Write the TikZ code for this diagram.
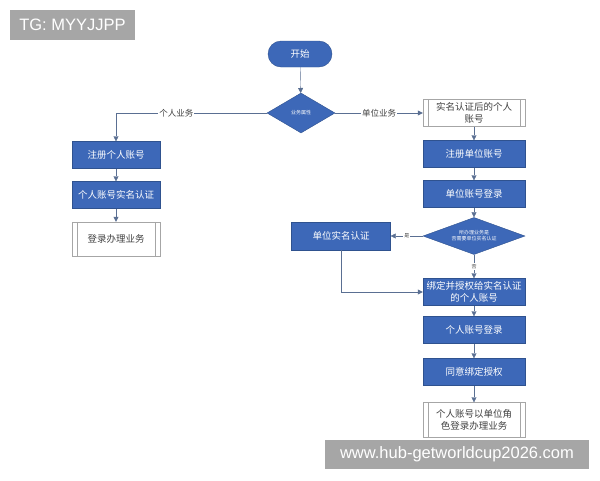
\documentclass[tikz,border=0pt]{standalone}
\usepackage{fontspec}
\setmainfont{Noto Sans CJK SC}
\usetikzlibrary{shapes.geometric,arrows.meta}
\definecolor{fb}{HTML}{3D68B8}
\definecolor{fbd}{HTML}{2F528F}
\definecolor{ln}{HTML}{5A6F92}
\tikzset{x=1pt,y=-1pt,
 blue box/.style={draw=fbd,fill=fb,text=white,minimum width=88pt,minimum height=27pt,inner sep=1pt,font=\fontsize{9.5}{11.5}\selectfont,align=center},
 wide box/.style={blue box,minimum width=102pt},
 proc/.style={draw=gray!70,fill=white,text=black!75,minimum height=34pt,inner sep=1pt,font=\fontsize{9.5}{11.5}\selectfont,align=center},
 dia/.style={diamond,aspect=1.7,draw=fbd,fill=fb,text=white,inner sep=0pt,align=center},
 con/.style={draw=ln,-{Triangle[width=5pt,length=5pt]}},
 lab/.style={fill=white,inner sep=1pt,text=black!75,font=\fontsize{8.5}{9}\selectfont},
 wm/.style={fill=black!35,text=white,inner sep=0pt,font=\fontsize{16.5}{18}\selectfont}}
\newcommand\procbars[1]{\draw[gray!70] ([xshift=5pt]#1.north west)--([xshift=5pt]#1.south west) ([xshift=-5pt]#1.north east)--([xshift=-5pt]#1.south east);}
\begin{document}
\begin{tikzpicture}
\useasboundingbox (0,0) rectangle (600,480);
\node[draw=fbd,fill=fb,text=white,rounded corners=13pt,minimum width=64pt,minimum height=26pt,font=\fontsize{9.5}{11}\selectfont] (start) at (300,54) {开始};
\node[dia,minimum width=68pt,minimum height=40pt,font=\fontsize{5}{6}\selectfont] (d1) at (301,113) {业务属性};
\node[blue box] (p1) at (116,155) {注册个人账号};
\node[blue box] (p2) at (116,195) {个人账号实名认证};
\node[proc,minimum width=88pt] (p3) at (116,239) {登录办理业务};
\procbars{p3}
\node[proc,minimum width=102pt,minimum height=27pt] (u0) at (474,113) {实名认证后的个人\\账号};
\procbars{u0}
\node[wide box] (u1) at (474,154) {注册单位账号};
\node[wide box] (u2) at (474,194) {单位账号登录};
\node[dia,minimum width=102pt,minimum height=34pt,font=\fontsize{5}{6}\selectfont] (d2) at (474,236) {所办理业务是\\否需要单位实名认证};
\node[blue box,minimum width=99pt,minimum height=28pt] (v) at (341,236) {单位实名认证};
\node[wide box] (u3) at (474,292) {绑定并授权给实名认证\\的个人账号};
\node[wide box] (u4) at (474,330) {个人账号登录};
\node[wide box] (u5) at (474,372) {同意绑定授权};
\node[proc,minimum width=102pt,minimum height=35pt] (u6) at (474,420) {个人账号以单位角\\色登录办理业务};
\procbars{u6}
\draw[con] (start) -- (d1);
\draw[con] (d1.west) -| node[lab,pos=0.3]{个人业务} (p1.north);
\draw[con] (p1) -- (p2);
\draw[con] (p2) -- (p3);
\draw[con] (d1.east) -- node[lab]{单位业务} (u0.west);
\draw[con] (u0) -- (u1);
\draw[con] (u1) -- (u2);
\draw[con] (u2) -- (d2);
\draw[con] (d2.west) -- node[lab,font=\fontsize{5}{6}\selectfont]{是} (v.east);
\draw[con] (d2.south) -- node[lab,font=\fontsize{5}{6}\selectfont]{否} (u3.north);
\draw[con] (v.south) |- (u3.west);
\draw[con] (u3) -- (u4);
\draw[con] (u4) -- (u5);
\draw[con] (u5) -- (u6);
\node[wm,minimum width=125pt,minimum height=30pt] (w1) at (72.5,25) {\fontspec{Liberation Sans}TG: MYYJJPP};
\node[wm,minimum width=264pt,minimum height=29pt] (w2) at (457,454.5) {\fontspec{Liberation Sans}www.hub-getworldcup2026.com};
\end{tikzpicture}
\end{document}
